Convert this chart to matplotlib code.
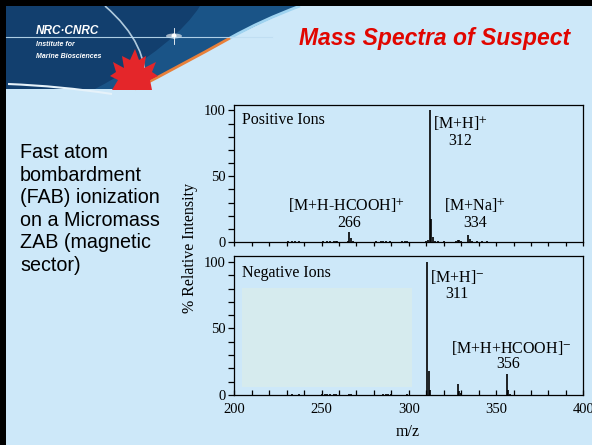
import matplotlib
matplotlib.use('Agg')
import matplotlib.pyplot as plt
from matplotlib.patches import Rectangle, Polygon, PathPatch, Ellipse
from matplotlib.path import Path
from matplotlib.ticker import MultipleLocator

# ---------------- data ----------------
pos_mz = [231, 233, 235, 237, 239, 243, 251, 253, 255, 257, 258, 259, 262, 265,
          266, 267, 268, 272, 281, 284, 285, 287, 289, 296, 298, 299,
          310, 311, 312, 313, 314, 315, 317, 320, 324, 327, 328, 329, 330,
          334, 335, 336, 339, 342, 345, 350, 357, 362, 370, 390]
pos_int = [0.4, 0.5, 0.5, 0.4, 0.3, 0.3, 0.5, 0.8, 0.6, 1.0, 0.5, 0.8, 0.3, 0.8,
           7.3, 3.0, 1.0, 0.3, 0.4, 0.8, 0.6, 0.7, 0.4, 0.5, 0.6, 0.4,
           1.0, 1.5, 100, 17.5, 3.5, 1.0, 0.4, 0.5, 0.3, 0.8, 1.2, 1.8, 0.5,
           5.3, 2.0, 0.8, 0.5, 0.6, 0.4, 0.3, 0.3, 0.3, 0.3, 0.3]

neg_mz = [231, 233, 235, 237, 239, 250, 252, 253, 255, 257, 258, 266, 267, 270,
          285, 287, 288, 290, 299,
          310.3, 311.3, 312.3, 328, 329, 330, 356, 357, 358]
neg_int = [0.3, 0.4, 0.3, 0.5, 0.3, 0.6, 0.8, 0.6, 0.9, 0.7, 0.5, 0.8, 0.5, 0.3,
           0.6, 0.8, 0.6, 0.4, 0.5,
           100, 18.3, 3.8, 8.3, 3.0, 1.3, 15.5, 4.0, 1.0]

pos_labels = [("[M+H]$^{+}$", 329.6, 90.5), ("312", 329.3, 77),
              ("[M+H-HCOOH]$^{+}$", 264.0, 28.4), ("266", 265.9, 14.8),
              ("[M+Na]$^{+}$", 338.0, 28.4), ("334", 338.0, 14.8)]
neg_labels = [("[M+H]$^{-}$", 327.9, 89), ("311", 327.8, 75.7),
              ("[M+H+HCOOH]$^{-}$", 358.5, 35.1), ("356", 357.0, 23.3)]

left_text = "Fast atom\nbombardment\n(FAB) ionization\non a Micromass\nZAB (magnetic\nsector)"
title = "Mass Spectra of Suspect"

plt.rcParams['mathtext.fontset'] = 'stix'
SERIF = 'Liberation Serif'
BG = '#CDE8F9'

fig = plt.figure(figsize=(5.92, 4.45), dpi=100)
fig.patch.set_facecolor(BG)

# --------------- slide decoration (pixel coords) ---------------
bg = fig.add_axes([0, 0, 1, 1], zorder=0)
bg.set_xlim(0, 592)
bg.set_ylim(445, 0)
bg.axis('off')

# dark banner
verts = [(6, 6), (300, 6), (240, 30), (175, 68), (135, 89), (6, 89), (6, 6)]
codes = [Path.MOVETO, Path.LINETO, Path.CURVE4, Path.CURVE4, Path.CURVE4,
         Path.LINETO, Path.CLOSEPOLY]
bg.add_patch(PathPatch(Path(verts, codes), facecolor='#123F6E', edgecolor='none'))
# lighter blue band near edge
verts2 = [(200, 6), (300, 6), (240, 30), (175, 68), (135, 89), (95, 89),
          (150, 60), (185, 30), (200, 6)]
codes2 = [Path.MOVETO, Path.LINETO, Path.CURVE4, Path.CURVE4, Path.CURVE4,
          Path.LINETO, Path.CURVE4, Path.CURVE4, Path.CURVE4]
bg.add_patch(PathPatch(Path(verts2, codes2), facecolor='#1D5A8E', edgecolor='none', alpha=0.8))
# edge swoosh (light at top, orange at bottom)
edge_top = Path([(300, 6), (262, 20), (230, 38)], [Path.MOVETO, Path.CURVE3, Path.CURVE3])
bg.add_patch(PathPatch(edge_top, facecolor='none', edgecolor='#9FD3F0', lw=2))
edge_bot = Path([(230, 38), (180, 66), (135, 89)], [Path.MOVETO, Path.CURVE3, Path.CURVE3])
bg.add_patch(PathPatch(edge_bot, facecolor='none', edgecolor='#E8803A', lw=2))
# inner white arc
arc = Path([(105, 6), (150, 45), (145, 89)], [Path.MOVETO, Path.CURVE3, Path.CURVE3])
bg.add_patch(PathPatch(arc, facecolor='none', edgecolor='#D8EEFA', lw=1.2, alpha=0.8))
bot_arc = Path([(8, 84), (60, 86), (112, 94)], [Path.MOVETO, Path.CURVE3, Path.CURVE3])
bg.add_patch(PathPatch(bot_arc, facecolor='none', edgecolor='#E6F2FA', lw=1.5))
# maple leaf (simplified)
leaf = [(135, 49), (139, 60), (146, 56), (144, 68), (156, 62), (152, 72), (158, 76),
        (150, 80), (152, 90), (112, 90), (118, 80), (110, 76), (116, 72),
        (113, 62), (124, 68), (122, 56), (130, 60)]
bg.add_patch(Polygon(leaf, closed=True, facecolor='#E4262A', edgecolor='none'))
# horizontal line and star flare
bg.plot([6, 272], [37, 37], color='#BFDDF2', lw=0.8, alpha=0.9)
bg.add_patch(Ellipse((174, 36), 16, 5, facecolor='white', edgecolor='none', alpha=0.6))
bg.add_patch(Ellipse((174, 36), 5, 5, facecolor='white', edgecolor='none'))
bg.plot([174, 174], [28, 44], color='white', lw=0.6)
# logo texts
bg.text(36, 31.5, "NRC·CNRC", color='white', fontsize=8.5, fontweight='bold',
        fontstyle='italic', family='Liberation Sans', va='center', ha='left')
bg.text(36, 44.5, "Institute for", color='white', fontsize=5, fontweight='bold',
        fontstyle='italic', family='Liberation Sans', va='center', ha='left')
bg.text(36, 56, "Marine Biosciences", color='white', fontsize=5, fontweight='bold',
        fontstyle='italic', family='Liberation Sans', va='center', ha='left')
# black borders
bg.add_patch(Rectangle((0, 0), 6, 445, facecolor='black', edgecolor='none'))
bg.add_patch(Rectangle((0, 0), 592, 6, facecolor='black', edgecolor='none'))
# title
bg.text(435, 38, title, color='#E10600', fontsize=16.5, fontweight='bold',
        fontstyle='italic', family='Liberation Sans', va='center', ha='center')
# left body text
bg.text(20, 143, left_text, color='black', fontsize=14.2, family='Liberation Sans',
        va='top', ha='left', linespacing=1.24)

# --------------- spectra ---------------
L, W = 234.3 / 592, 349.0 / 592
ax1 = fig.add_axes([L, 1 - 242 / 445, W, 137.5 / 445], zorder=2)
ax2 = fig.add_axes([L, 1 - 395 / 445, W, 139 / 445], zorder=2)

for ax in (ax1, ax2):
    ax.set_facecolor('none')
    ax.set_xlim(200, 400)
    ax.set_ylim(0, 104.5)
    ax.xaxis.set_major_locator(MultipleLocator(50))
    ax.xaxis.set_minor_locator(MultipleLocator(10))
    ax.yaxis.set_major_locator(MultipleLocator(50))
    ax.yaxis.set_minor_locator(MultipleLocator(10))
    for s in ax.spines.values():
        s.set_linewidth(0.9)
    ax.tick_params(axis='y', which='both', direction='out', length=4, width=0.9,
                   labelsize=10.5, pad=2)
    for lab in ax.get_yticklabels():
        lab.set_family(SERIF)

ax1.tick_params(axis='x', which='both', direction='out', length=3, width=0.9,
                labelbottom=False)
ax2.tick_params(axis='x', which='both', direction='in', length=3.5, width=0.9,
                labelsize=10.5, pad=6)
for lab in ax2.get_xticklabels():
    lab.set_family(SERIF)

ax2.add_patch(Rectangle((204.2, 5.8), 97.6, 74.9, facecolor='#D6EBEE',
                        edgecolor='none', zorder=0))

ax1.vlines(pos_mz, 0, pos_int, color='black', lw=1.2, zorder=3)
ax2.vlines(neg_mz, 0, neg_int, color='black', lw=1.2, zorder=3)

ax1.text(204.2, 93, "Positive Ions", family=SERIF, fontsize=11.5, va='center', ha='left')
ax2.text(204.6, 92, "Negative Ions", family=SERIF, fontsize=11.5, va='center', ha='left')
for txt, x, y in pos_labels:
    ax1.text(x, y, txt, family=SERIF, fontsize=11.5, va='center', ha='center')
for txt, x, y in neg_labels:
    ax2.text(x, y, txt, family=SERIF, fontsize=11.5, va='center', ha='center')

fig.text(190 / 592, 1 - 248 / 445, "% Relative Intensity", rotation=90,
         family=SERIF, fontsize=11.5, va='center', ha='center')
fig.text(408 / 592, 1 - 432 / 445, "m/z", family=SERIF, fontsize=11.5,
         va='center', ha='center')

fig.savefig('out.png', dpi=100, facecolor=BG)
